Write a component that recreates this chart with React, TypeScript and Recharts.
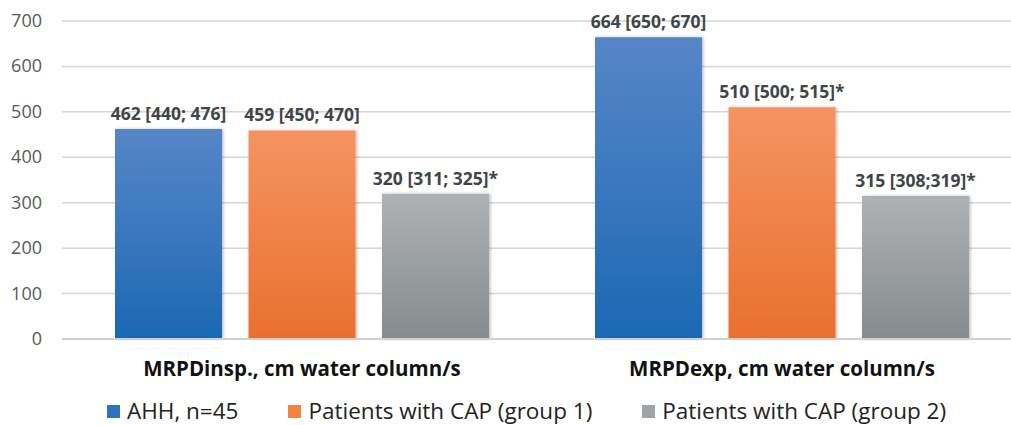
import React from 'react';
import { BarChart, Bar, XAxis, YAxis, CartesianGrid, LabelList, Legend } from 'recharts';

const categories = ['MRPDinsp., cm water column/s', 'MRPDexp, cm water column/s'];
const ahhValues = [462, 664];
const group1Values = [459, 510];
const group2Values = [320, 315];
const ahhLabels = ['462 [440; 476]', '664 [650; 670]'];
const group1Labels = ['459 [450; 470]', '510 [500; 515]*'];
const group2Labels = ['320 [311; 325]*', '315 [308;319]*'];
const seriesNames = ['AHH, n=45', 'Patients with CAP (group 1)', 'Patients with CAP (group 2)'];
const yTicks = [0, 100, 200, 300, 400, 500, 600, 700];

const data = categories.map((c, i) => ({
  category: c,
  ahh: ahhValues[i],
  g1: group1Values[i],
  g2: group2Values[i],
  ahhLabel: ahhLabels[i],
  g1Label: group1Labels[i],
  g2Label: group2Labels[i],
}));

const FONT = '"Open Sans", sans-serif';
const legendColors = ['#2f72bd', '#f08440', '#a0a4a7'];
const gradIds = ['gBlue', 'gOrange', 'gGray'];

const BarLabel = (props: any) => {
  const { x, y, width, value } = props;
  return (
    <text
      x={x + width / 2}
      y={y - 9}
      textAnchor="middle"
      fontFamily={FONT}
      fontSize={17.5}
      fontWeight={700}
      fill="#404548"
    >
      {value}
    </text>
  );
};

const CatTick = (props: any) => {
  const { x, y, payload } = props;
  return (
    <text x={x} y={y + 29} textAnchor="middle" fontFamily={FONT} fontSize={20.5} fontWeight={700} fill="#111">
      {payload.value}
    </text>
  );
};

const YTick = (props: any) => {
  const { y, payload } = props;
  return (
    <text x={42} y={y + 6} textAnchor="end" fontFamily={FONT} fontSize={18} fill="#595959">
      {payload.value}
    </text>
  );
};

const renderLegend = () => (
  <div
    style={{
      display: 'flex',
      alignItems: 'center',
      paddingLeft: 107,
      height: 42,
      paddingTop: 14,
      boxSizing: 'border-box',
      fontFamily: FONT,
      fontSize: 22.5,
      color: '#222',
      whiteSpace: 'nowrap',
    }}
  >
    {seriesNames.map((n, i) => (
      <div key={n} style={{ display: 'flex', alignItems: 'center', marginRight: 50 }}>
        <span style={{ display: 'inline-block', width: 13, height: 13, background: legendColors[i], marginRight: 7 }} />
        <span style={{ lineHeight: '22px' }}>{n}</span>
      </div>
    ))}
  </div>
);

export default function App() {
  return (
    <div style={{ position: 'fixed', left: 0, top: 0, width: 1011, height: 425, overflow: 'hidden', background: '#fff' }}>
      <BarChart
        width={1030}
        height={425}
        data={data}
        margin={{ top: 21, right: 8, left: 0, bottom: 0 }}
        barSize={107}
        barGap={26.5}
      >
        <defs>
          <linearGradient id="gBlue" x1="0" y1="0" x2="0" y2="1">
            <stop offset="0%" stopColor="#5686c8" />
            <stop offset="100%" stopColor="#1c68b3" />
          </linearGradient>
          <linearGradient id="gOrange" x1="0" y1="0" x2="0" y2="1">
            <stop offset="0%" stopColor="#f59462" />
            <stop offset="100%" stopColor="#e9702e" />
          </linearGradient>
          <linearGradient id="gGray" x1="0" y1="0" x2="0" y2="1">
            <stop offset="0%" stopColor="#afb2b4" />
            <stop offset="100%" stopColor="#858b8e" />
          </linearGradient>
          <filter id="shadow" x="-10%" y="-10%" width="120%" height="120%">
            <feDropShadow dx="1.5" dy="0" stdDeviation="1.5" floodColor="#000" floodOpacity="0.25" />
          </filter>
        </defs>
        <CartesianGrid vertical={false} stroke="#d6d6d6" strokeWidth={1.5} />
        <XAxis
          dataKey="category"
          height={44}
          tick={<CatTick />}
          tickLine={false}
          axisLine={{ stroke: '#d0d0d0', strokeWidth: 2 }}
          interval={0}
        />
        <YAxis
          width={62}
          domain={[0, 700]}
          ticks={yTicks}
          tick={<YTick />}
          tickLine={false}
          axisLine={false}
          interval={0}
        />
        <Legend verticalAlign="bottom" height={42} content={renderLegend} />
        <Bar dataKey="ahh" name={seriesNames[0]} fill={`url(#${gradIds[0]})`} filter="url(#shadow)" isAnimationActive={false}>
          <LabelList dataKey="ahhLabel" content={<BarLabel />} />
        </Bar>
        <Bar dataKey="g1" name={seriesNames[1]} fill={`url(#${gradIds[1]})`} filter="url(#shadow)" isAnimationActive={false}>
          <LabelList dataKey="g1Label" content={<BarLabel />} />
        </Bar>
        <Bar dataKey="g2" name={seriesNames[2]} fill={`url(#${gradIds[2]})`} filter="url(#shadow)" isAnimationActive={false}>
          <LabelList dataKey="g2Label" content={<BarLabel />} />
        </Bar>
      </BarChart>
    </div>
  );
}
